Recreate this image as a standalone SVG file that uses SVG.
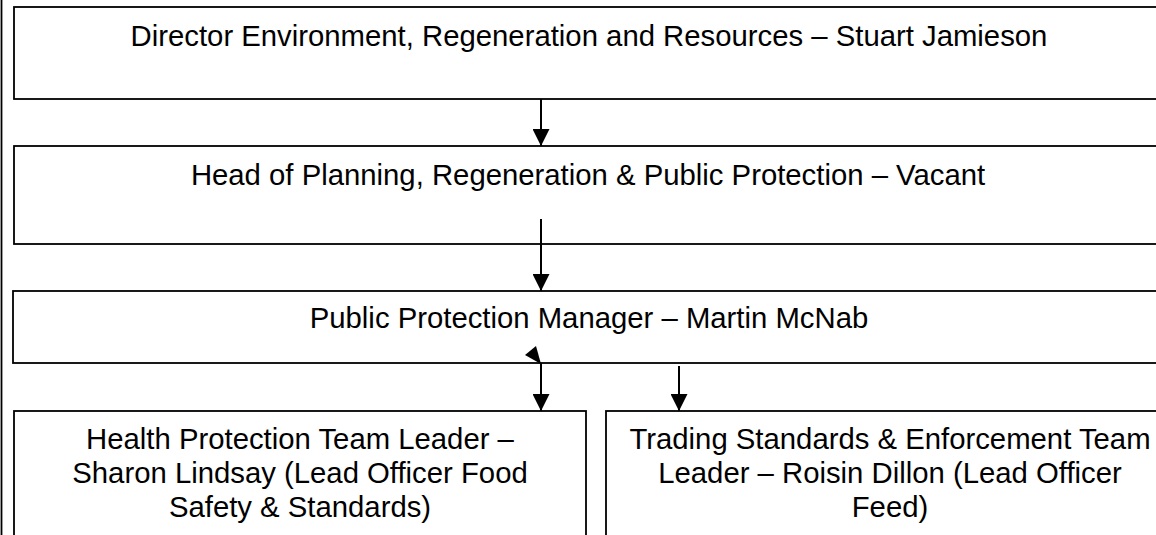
<svg xmlns="http://www.w3.org/2000/svg" width="1156" height="535" viewBox="0 0 1156 535">
  <style>
    .box { fill: #ffffff; stroke: #000000; stroke-width: 1.8; }
    .lbl { font-family: "Liberation Sans", Arial, sans-serif; font-size: 29.3px; fill: #000000; text-anchor: middle; }
    .conn { stroke: #000000; stroke-width: 2; fill: none; }
  </style>
  <defs>
    <marker id="arrow" markerUnits="userSpaceOnUse" markerWidth="17" markerHeight="17" refX="17" refY="8.5" orient="auto">
      <path d="M0,0 L17,8.5 L0,17 z" fill="#000000"/>
    </marker>
  </defs>
  <rect x="0" y="0" width="1156" height="535" fill="#ffffff"/>
  <!-- page margin rule -->
  <line x1="1.5" y1="0" x2="1.5" y2="535" stroke="#000000" stroke-width="1.8"/>

  <g id="director">
    <rect class="box" x="14" y="7" width="1170" height="92"/>
    <text class="lbl" x="589" y="46">Director Environment, Regeneration and Resources – Stuart Jamieson</text>
  </g>
  <g id="head-planning">
    <rect class="box" x="14" y="146" width="1170" height="98"/>
    <text class="lbl" x="588" y="185">Head of Planning, Regeneration &amp; Public Protection – Vacant</text>
  </g>
  <g id="pp-manager">
    <rect class="box" x="13" y="291" width="1171" height="72"/>
    <text class="lbl" x="589" y="328">Public Protection Manager – Martin McNab</text>
  </g>
  <g id="health-protection">
    <rect class="box" x="14" y="411" width="572" height="140"/>
    <text class="lbl" x="300" y="449">Health Protection Team Leader –</text>
    <text class="lbl" x="300" y="483">Sharon Lindsay (Lead Officer Food</text>
    <text class="lbl" x="300" y="517">Safety &amp; Standards)</text>
  </g>
  <g id="trading-standards">
    <rect class="box" x="606" y="411" width="580" height="140"/>
    <text class="lbl" x="890" y="449">Trading Standards &amp; Enforcement Team</text>
    <text class="lbl" x="890" y="483">Leader – Roisin Dillon (Lead Officer</text>
    <text class="lbl" x="890" y="517">Feed)</text>
  </g>

  <g id="connectors">
    <line class="conn" x1="541" y1="99" x2="541" y2="146" marker-end="url(#arrow)"/>
    <line class="conn" x1="541" y1="219" x2="541" y2="291" marker-end="url(#arrow)"/>
    <line class="conn" x1="541" y1="363" x2="541" y2="411" marker-end="url(#arrow)"/>
    <line class="conn" x1="679" y1="366" x2="679" y2="411" marker-end="url(#arrow)"/>
    <polygon points="525,355 536,346 541,364" fill="#000000"/>
  </g>
</svg>
